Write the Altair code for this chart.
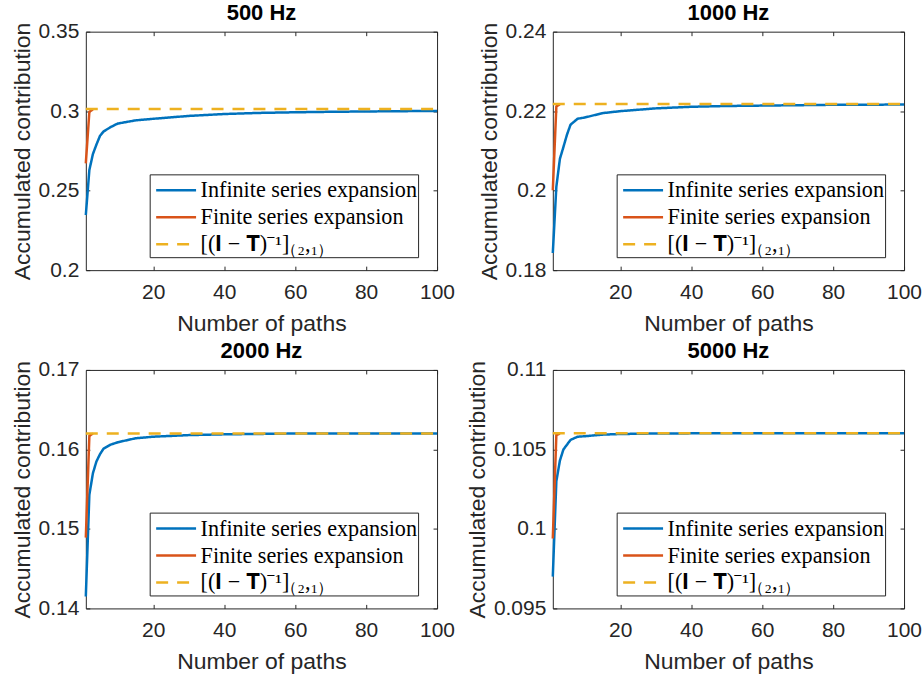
import altair as alt
import pandas as pd

# ---------------- data ----------------
TITLES = ["500 Hz", "1000 Hz", "2000 Hz", "5000 Hz"]
SERIES = ["Infinite series expansion", "Finite series expansion", "[(𝐈 − 𝐓)⁻¹]₍₂,₁₎"]
COLORS = ["#0072BD", "#D95319", "#EDB120"]

X_INF = [1, 2, 3, 4, 5, 6, 8, 10, 15, 20, 30, 40, 50, 60, 70, 80, 90, 100]
INF_500 = [0.2347, 0.263, 0.273, 0.279, 0.2845, 0.2872, 0.2900, 0.2922, 0.2942, 0.2952,
           0.2970, 0.2982, 0.2989, 0.2993, 0.2996, 0.2998, 0.3000, 0.3001]
INF_1000 = [0.1843, 0.2010, 0.2080, 0.2110, 0.2141, 0.2166, 0.2181, 0.2184, 0.2195, 0.2200,
            0.2207, 0.2211, 0.2213, 0.2214, 0.2215, 0.2216, 0.2216, 0.2217]
INF_2000 = [0.1415, 0.1543, 0.1570, 0.1585, 0.1594, 0.1601, 0.1606, 0.1609, 0.1614, 0.1616,
            0.1618, 0.1619, 0.16195, 0.1620, 0.1620, 0.1620, 0.1620, 0.1620]
INF_5000 = [0.0970, 0.1030, 0.1043, 0.1050, 0.1053, 0.1056, 0.1058, 0.10583, 0.10593, 0.10597,
            0.10600, 0.10601, 0.10601, 0.10602, 0.10602, 0.10602, 0.10602, 0.10602]

X_FIN = [1, 2, 3]
FIN_500 = [0.2672, 0.2995, 0.3012]
FIN_1000 = [0.2001, 0.2212, 0.2217]
FIN_2000 = [0.1489, 0.1617, 0.1620]
FIN_5000 = [0.0994, 0.1059, 0.1060]

X_REF = [1, 100]
REF_VALUES = [0.3014, 0.2218, 0.1620, 0.10602]

Y_DOMAINS = [[0.2, 0.35], [0.18, 0.24], [0.14, 0.17], [0.095, 0.11]]
Y_TICKS = [[0.2, 0.25, 0.3, 0.35], [0.18, 0.2, 0.22, 0.24],
           [0.14, 0.15, 0.16, 0.17], [0.095, 0.1, 0.105, 0.11]]
X_TICKS = [20, 40, 60, 80, 100]

INF_ALL = [INF_500, INF_1000, INF_2000, INF_5000]
FIN_ALL = [FIN_500, FIN_1000, FIN_2000, FIN_5000]

# ---------------- style ----------------
SANS = "Liberation Sans"
SERIF = "Liberation Serif"
AX = "#262626"
W, H = 352, 239
TICK = 4


def panel(i):
    inf = pd.DataFrame({"x": X_INF, "y": INF_ALL[i], "s": SERIES[0]})
    fin = pd.DataFrame({"x": X_FIN, "y": FIN_ALL[i], "s": SERIES[1]})
    ref = pd.DataFrame({"x": X_REF, "y": [REF_VALUES[i]] * 2, "s": SERIES[2]})

    xscale = alt.Scale(domain=[1, 100], nice=False)
    yscale = alt.Scale(domain=Y_DOMAINS[i], nice=False, zero=False)

    x_bottom = alt.Axis(values=X_TICKS, orient="bottom", offset=-TICK, tickSize=TICK,
                        domain=False, grid=False, labelFlush=False, labelFont=SANS,
                        labelFontSize=21, labelColor=AX, tickColor=AX, labelPadding=11,
                        title="Number of paths", titleFont=SANS, titleFontSize=23,
                        titleFontWeight="normal", titleColor=AX, titlePadding=10)
    y_left = alt.Axis(values=Y_TICKS[i], orient="left", offset=-TICK, tickSize=TICK,
                      domain=False, grid=False, format="~g", labelFont=SANS,
                      labelFontSize=21, labelColor=AX, tickColor=AX, labelPadding=7,
                      title="Accumulated contribution", titleFont=SANS, titleFontSize=23,
                      titleFontWeight="normal", titleColor=AX, titlePadding=4)
    x_top = alt.Axis(values=X_TICKS, orient="top", offset=-TICK, tickSize=TICK,
                     domain=False, grid=False, labels=False, title=None, tickColor=AX,
                     minExtent=0, maxExtent=0)
    y_right = alt.Axis(values=Y_TICKS[i], orient="right", offset=-TICK, tickSize=TICK,
                       domain=False, grid=False, labels=False, title=None, tickColor=AX,
                       minExtent=0, maxExtent=0)

    legend = alt.Legend(title=None, orient="none", legendX=64, legendY=143,
                        strokeColor=AX, fillColor="white", padding=1,
                        symbolType="M-0.7037,0H2.2593", symbolSize=729, symbolStrokeWidth=2.5,
                        labelFont=SERIF, labelFontSize=22.2, labelColor="black",
                        labelOffset=20, rowPadding=-3, labelLimit=0, cornerRadius=0)
    color = alt.Color("s:N", scale=alt.Scale(domain=SERIES, range=COLORS), legend=legend)
    dash = alt.StrokeDash("s:N", scale=alt.Scale(domain=SERIES, range=[[1, 0], [1, 0], [12, 9]]),
                          legend=legend)

    l_inf = alt.Chart(inf).mark_line(strokeWidth=2.5).encode(
        x=alt.X("x:Q", scale=xscale, axis=x_bottom),
        y=alt.Y("y:Q", scale=yscale, axis=y_left),
        color=color, strokeDash=dash)
    l_fin = alt.Chart(fin).mark_line(strokeWidth=2.5).encode(
        x=alt.X("x:Q", scale=xscale, axis=None),
        y=alt.Y("y:Q", scale=yscale, axis=None),
        color=color, strokeDash=dash)
    l_ref = alt.Chart(ref).mark_line(strokeWidth=2.5).encode(
        x=alt.X("x:Q", scale=xscale, axis=x_top),
        y=alt.Y("y:Q", scale=yscale, axis=y_right),
        color=color, strokeDash=dash)

    return alt.layer(l_inf, l_fin, l_ref).resolve_axis(
        x="independent", y="independent"
    ).properties(
        width=W, height=H,
        title=alt.TitleParams(TITLES[i], font=SANS, fontSize=22, fontWeight="bold",
                              color="black", offset=-4),
    )


def row(a, b, gap):
    return alt.hconcat(panel(a), panel(b), spacing=gap).resolve_scale(
        x="independent", y="independent", color="independent", strokeDash="independent"
    ).resolve_legend(color="independent", strokeDash="independent")


chart = alt.vconcat(row(0, 1, 21), row(2, 3, 9), spacing=3).resolve_scale(
    x="independent", y="independent", color="independent", strokeDash="independent"
).resolve_legend(color="independent", strokeDash="independent").properties(
    padding={"left": 10, "top": 0, "right": 0, "bottom": 0},
    background="white",
).configure_view(stroke=AX, strokeWidth=1)

chart.save("out.html", embed_options={"renderer": "svg", "actions": False})
